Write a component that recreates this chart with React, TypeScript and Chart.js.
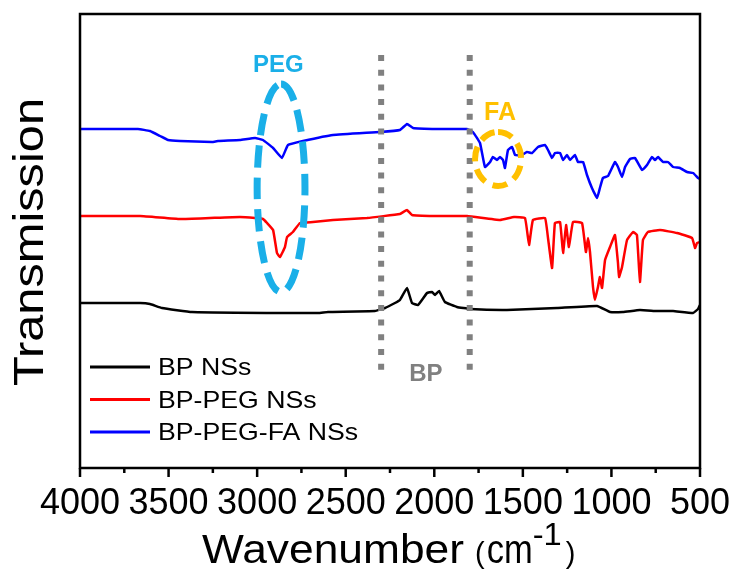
import React, { useEffect, useRef } from "react";
import { Chart, registerables } from "chart.js";

Chart.register(...registerables);

// ---------- DATA (wavenumber in cm-1, transmission in arbitrary units) ----------
const bpWavenumber = [4000, 3661, 3605, 3537, 3368, 2899, 2656, 2600, 2335, 2278, 2222, 2194, 2154, 2126, 2092, 2041, 2013, 1996, 1973, 1940, 1872, 1798, 1590, 1307, 1081, 1008, 935, 839, 743, 652, 539, 511, 500];
const bpTransmission = [165, 165, 164, 160, 156, 155, 155, 156, 157, 160, 165, 168, 180, 165, 163, 175, 176, 173, 177, 166, 161, 159, 158, 160, 162, 156, 156, 158, 157, 157, 155, 159, 163];

const pegWavenumber = [4000, 3661, 3435, 3266, 3097, 3012, 2967, 2944, 2910, 2888, 2871, 2843, 2831, 2798, 2758, 2685, 2572, 2380, 2194, 2154, 2126, 2002, 1815, 1629, 1550, 1488, 1465, 1443, 1375, 1358, 1335, 1319, 1290, 1273, 1256, 1240, 1217, 1166, 1144, 1132, 1121, 1104, 1093, 1076, 1065, 1053, 1036, 1008, 980, 963, 957, 940, 912, 878, 856, 839, 822, 794, 726, 630, 545, 528, 517, 500];
const pegTransmission = [252, 252, 249, 250, 251, 250, 249, 245, 238, 215, 211, 221, 231, 236, 245, 246, 248, 250, 254, 258, 253, 252, 252, 248, 251, 250, 223, 248, 250, 230, 200, 245, 246, 215, 243, 221, 246, 245, 216, 230, 216, 181, 168, 181, 191, 180, 208, 221, 233, 205, 191, 201, 228, 236, 233, 186, 228, 236, 238, 235, 230, 220, 225, 226];

const faWavenumber = [4000, 3673, 3605, 3548, 3503, 3435, 3255, 3221, 3097, 3012, 2967, 2910, 2860, 2826, 2741, 2572, 2306, 2194, 2154, 2120, 1985, 1815, 1782, 1742, 1714, 1685, 1669, 1646, 1629, 1612, 1601, 1584, 1561, 1544, 1505, 1477, 1448, 1415, 1375, 1358, 1335, 1319, 1290, 1273, 1251, 1234, 1206, 1189, 1160, 1138, 1110, 1081, 1065, 1048, 1019, 980, 963, 940, 923, 895, 867, 827, 799, 771, 754, 737, 709, 681, 652, 613, 573, 539, 511, 500];
const faTransmission = [339, 339, 337, 332, 328, 327, 326, 327, 328, 330, 328, 320, 310, 323, 327, 333, 336, 338, 344, 340, 339, 339, 336, 325, 301, 306, 311, 308, 311, 308, 300, 318, 321, 313, 313, 316, 315, 321, 323, 318, 310, 315, 315, 308, 313, 308, 313, 306, 306, 293, 280, 270, 280, 290, 292, 306, 301, 291, 301, 309, 310, 298, 303, 311, 308, 311, 306, 306, 301, 300, 296, 295, 290, 289];

const seriesNames = ["BP NSs", "BP-PEG NSs", "BP-PEG-FA NSs"];
const seriesColors = ["#000000", "#FF0000", "#0000FF"];

const xTickValues = [4000, 3500, 3000, 2500, 2000, 1500, 1000, 500];
const xMin = 500;
const xMax = 4000;
const minorStep = 250;
const yMin = 0;
const yMax = 454;

// BP region (dotted vertical markers) in data units
const bpRegionEdges = [2300, 1800];
const bpRegionTop = 413;
const bpRegionBottom = 94;
const bpLabel = { text: "BP", x: 2047, y: 96 };

// PEG annotation (ellipse in data units)
const pegEllipse = { cx: 2865, cy: 280, rx: 135, ry: 104 };
const pegLabel = { text: "PEG", x: 2880, y: 405 };

// FA annotation
const faEllipse = { cx: 1640, cy: 309, rx: 130, ry: 27 };
const faLabel = { text: "FA", x: 1629, y: 357 };

const FONT = "'Liberation Sans', Arial, sans-serif";

function toPoints(xs: number[], ys: number[]) {
  return xs.map((x, i) => ({ x, y: ys[i] }));
}

function fitText(
  ctx: CanvasRenderingContext2D,
  text: string,
  font: string,
  x: number,
  y: number,
  targetWidth: number | null,
  align: CanvasTextAlign = "left",
  color = "#000"
) {
  ctx.save();
  ctx.font = font;
  const w = ctx.measureText(text).width;
  const sx = targetWidth ? targetWidth / w : 1;
  ctx.translate(x, y);
  ctx.scale(sx, 1);
  ctx.textAlign = align;
  ctx.textBaseline = "alphabetic";
  ctx.fillStyle = color;
  ctx.fillText(text, 0, 0);
  ctx.restore();
  return w * sx;
}

const decorPlugin = {
  id: "decor",
  afterDatasetsDraw(chart: any) {
    const ctx: CanvasRenderingContext2D = chart.ctx;
    const xs = chart.scales.x;
    const ys = chart.scales.y;
    const area = chart.chartArea;

    // Frame
    ctx.save();
    ctx.strokeStyle = "#000";
    ctx.lineWidth = 2.5;
    ctx.strokeRect(area.left, area.top, area.right - area.left, area.bottom - area.top);

    // Tick marks (major + minor), pointing outward
    ctx.lineWidth = 2.5;
    for (let v = xMin; v <= xMax; v += minorStep) {
      const px = xs.getPixelForValue(v);
      const len = v % 500 === 0 ? 9 : 5;
      ctx.beginPath();
      ctx.moveTo(px, area.bottom);
      ctx.lineTo(px, area.bottom + len);
      ctx.stroke();
    }
    ctx.restore();

    // BP region dotted lines
    ctx.save();
    ctx.strokeStyle = "#808080";
    ctx.lineWidth = 6;
    ctx.setLineDash([6, 8.7]);
    bpRegionEdges.forEach((wn) => {
      const px = xs.getPixelForValue(wn);
      ctx.beginPath();
      ctx.moveTo(px, ys.getPixelForValue(bpRegionTop));
      ctx.lineTo(px, ys.getPixelForValue(bpRegionBottom));
      ctx.stroke();
    });
    ctx.restore();
    fitText(ctx, bpLabel.text, `bold 24px ${FONT}`, xs.getPixelForValue(bpLabel.x), ys.getPixelForValue(bpLabel.y) + 9, null, "center", "#808080");

    // Ellipses
    const drawEllipse = (e: any, color: string, lw: number, dash: number[]) => {
      const cx = xs.getPixelForValue(e.cx);
      const cy = ys.getPixelForValue(e.cy);
      const rx = Math.abs(xs.getPixelForValue(e.cx + e.rx) - cx);
      const ry = Math.abs(ys.getPixelForValue(e.cy + e.ry) - cy);
      ctx.save();
      ctx.strokeStyle = color;
      ctx.lineWidth = lw;
      ctx.setLineDash(dash);
      ctx.beginPath();
      ctx.ellipse(cx, cy, rx, ry, 0, -Math.PI / 2, (3 * Math.PI) / 2);
      ctx.stroke();
      ctx.restore();
    };
    drawEllipse(pegEllipse, "#1AAFE8", 7, [22, 10]);
    drawEllipse(faEllipse, "#FFC000", 6, [15, 8]);
    fitText(ctx, pegLabel.text, `bold 24px ${FONT}`, xs.getPixelForValue(pegLabel.x), ys.getPixelForValue(pegLabel.y) + 9, null, "center", "#1AAFE8");
    fitText(ctx, faLabel.text, `bold 25px ${FONT}`, xs.getPixelForValue(faLabel.x), ys.getPixelForValue(faLabel.y) + 9, null, "center", "#FFC000");

    // Legend
    const legendFont = `24px ${FONT}`;
    ctx.save();
    ctx.font = legendFont;
    const longest = Math.max(...seriesNames.map((n) => ctx.measureText(n).width));
    ctx.restore();
    const legendScale = 200 / longest;
    seriesNames.forEach((name, i) => {
      const baseline = 375 + i * 32.5;
      ctx.save();
      ctx.strokeStyle = seriesColors[i];
      ctx.lineWidth = 3;
      ctx.beginPath();
      ctx.moveTo(area.left + 10, baseline - 8);
      ctx.lineTo(area.left + 70, baseline - 8);
      ctx.stroke();
      ctx.restore();
      ctx.save();
      ctx.font = legendFont;
      const w = ctx.measureText(name).width;
      ctx.restore();
      fitText(ctx, name, legendFont, area.left + 78, baseline, w * legendScale, "left", "#000");
    });

    // Y title (rotated)
    ctx.save();
    ctx.translate(43, (98 + 386) / 2);
    ctx.rotate(-Math.PI / 2);
    fitText(ctx, "Transmission", `42px ${FONT}`, 0, 0, 288, "center", "#000");
    ctx.restore();

    // X title
    const baseY = 563;
    let cx = 202;
    cx += fitText(ctx, "Wavenumber", `40px ${FONT}`, cx, baseY, 262, "left", "#000");
    cx += 11;
    cx += fitText(ctx, "(", `29px ${FONT}`, cx, baseY, null, "left", "#000");
    cx += 2;
    cx += fitText(ctx, "cm", `40px ${FONT}`, cx, baseY, 46, "left", "#000");
    cx += fitText(ctx, "-1", `32px ${FONT}`, cx, baseY - 18, 29, "left", "#000");
    cx += 4;
    fitText(ctx, ")", `29px ${FONT}`, cx, baseY, null, "left", "#000");
  },
};

export default function App() {
  const canvasRef = useRef<HTMLCanvasElement | null>(null);

  useEffect(() => {
    document.body.style.margin = "0";
    document.body.style.overflow = "hidden";
    const canvas = canvasRef.current;
    if (!canvas) return;

    const datasets = [
      { data: toPoints(bpWavenumber, bpTransmission) },
      { data: toPoints(pegWavenumber, pegTransmission) },
      { data: toPoints(faWavenumber, faTransmission) },
    ].map((d, i) => ({
      label: seriesNames[i],
      data: d.data,
      borderColor: seriesColors[i],
      backgroundColor: seriesColors[i],
      borderWidth: 2.5,
      pointRadius: 0,
      tension: 0.1,
      fill: false,
    }));

    const chart = new Chart(canvas, {
      type: "line",
      data: { datasets },
      options: {
        animation: false,
        responsive: false,
        maintainAspectRatio: false,
        layout: { padding: { left: 80, right: 34, top: 14, bottom: 0 } },
        plugins: {
          legend: { display: false },
          tooltip: { enabled: false },
          title: { display: false },
        },
        scales: {
          x: {
            type: "linear",
            reverse: true,
            min: xMin,
            max: xMax,
            grid: { display: false },
            border: { display: false },
            afterBuildTicks: (scale: any) => {
              scale.ticks = xTickValues.map((v) => ({ value: v }));
            },
            afterFit: (scale: any) => {
              scale.height = 102;
              scale.paddingLeft = 0;
              scale.paddingRight = 0;
            },
            ticks: {
              autoSkip: false,
              maxRotation: 0,
              padding: 6,
              color: "#000",
              font: { family: FONT, size: 36 },
              callback: (v: any) => String(v),
            },
          },
          y: {
            type: "linear",
            display: false,
            min: yMin,
            max: yMax,
          },
        },
      },
      plugins: [decorPlugin],
    });

    return () => chart.destroy();
  }, []);

  return (
    <div style={{ width: 734, height: 570, background: "#fff" }}>
      <canvas ref={canvasRef} width={734} height={570} style={{ display: "block" }} />
    </div>
  );
}
